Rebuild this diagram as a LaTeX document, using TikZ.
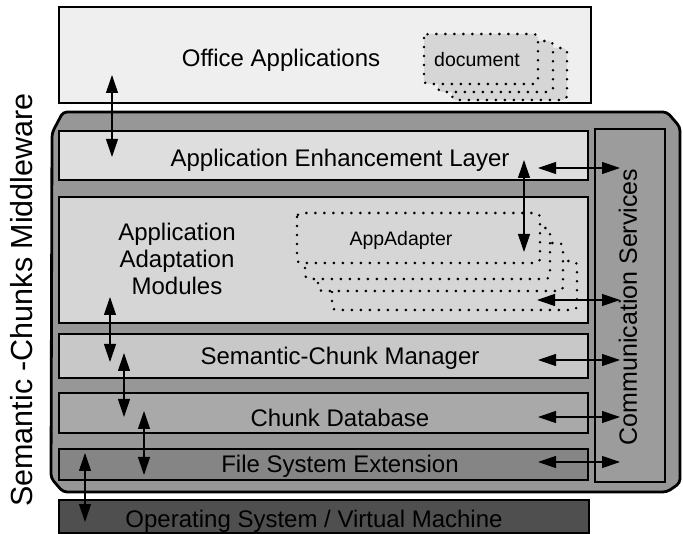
\documentclass[tikz,border=0pt]{standalone}
\usepackage{fontspec}
\setmainfont{Liberation Sans}
\usetikzlibrary{arrows.meta}
\definecolor{cOffice}{HTML}{EFEFEF}
\definecolor{cAEL}{HTML}{DEDEDE}
\definecolor{cAAM}{HTML}{D6D6D6}
\definecolor{cSCM}{HTML}{C8C8C8}
\definecolor{cCDB}{HTML}{A9A9A9}
\definecolor{cFSE}{HTML}{858585}
\definecolor{cOS}{HTML}{4F4F4F}
\definecolor{cMW}{HTML}{979797}
\definecolor{cCOM}{HTML}{9C9C9C}
\definecolor{cDOC}{HTML}{D6D6D6}
\newcommand\myfs{\fontsize{24}{27}\selectfont}
\begin{document}
\begin{tikzpicture}[x=1pt,y=-1pt,
  layer/.style={draw, line width=2.8pt, anchor=north west, inner sep=0pt, outer sep=0pt},
  txt/.style={font=\myfs, inner sep=0pt, anchor=base},
  small/.style={font=\fontsize{19.5}{22}\selectfont, inner sep=0pt, anchor=base},
  dotbox/.style={draw, line width=2.8pt, dash pattern=on 0pt off 9pt, line cap=round, rounded corners=4pt},
  bi/.style={{Triangle[length=18pt,width=12pt]}-{Triangle[length=18pt,width=12pt]}, line width=1.1pt}]
\useasboundingbox (0,0) rectangle (683,534);
% Office applications
\node[layer, fill=cOffice, minimum width=532pt, minimum height=96pt] (office) at (59,7) {};
\node[txt] (tOffice) at (281,67) {Office Applications};
% document stack
\draw[dotbox, fill=cDOC] (452,48) rectangle (567,100);
\draw[dotbox, fill=cDOC] (438,41) rectangle (553,92);
\draw[dotbox, fill=cDOC] (424,34) rectangle (538,84);
\node[small] (tDoc) at (477,67) {document};
% middleware container
\draw[line width=2.8pt, fill=cMW, rounded corners=4pt]
  (52,133) -- (63,112) -- (667,112) -- (680,127) -- (680,483) -- (667,492) -- (63,492) -- (51,478) -- cycle;
\node[txt, rotate=90, anchor=center] (tMW) at (22,300) {\fontsize{30.5}{34}\selectfont Semantic -Chunks Middleware};
% communication services
\node[layer, fill=cCOM, minimum width=70pt, minimum height=353pt] (comm) at (595,129) {};
\node[txt, rotate=90, anchor=center] (tComm) at (628,307) {\fontsize{25}{28}\selectfont Communication Services};
% layers
\node[layer, fill=cAEL, minimum width=529pt, minimum height=49pt] (ael) at (59,131) {};
\node[txt] (tAEL) at (340,167) {Application Enhancement Layer};
\node[layer, fill=cAAM, minimum width=529pt, minimum height=126pt] (aam) at (59,197) {};
\node[font=\myfs, inner sep=0pt, align=center] (tAAM) at (177,259) {Application\\Adaptation\\Modules};
\node[layer, fill=cSCM, minimum width=529pt, minimum height=44pt] (scm) at (59,334) {};
\node[txt] (tSCM) at (340,365) {Semantic-Chunk Manager};
\node[layer, fill=cCDB, minimum width=529pt, minimum height=40pt] (cdb) at (59,393) {};
\node[txt] (tCDB) at (340,427) {Chunk Database};
\node[layer, fill=cFSE, minimum width=529pt, minimum height=31pt] (fse) at (59,449) {};
\node[txt] (tFSE) at (340,473) {File System Extension};
\node[layer, fill=cOS, minimum width=530pt, minimum height=33pt] (os) at (59,500) {};
\node[txt] (tOS) at (314,527) {Operating System / Virtual Machine};
% AppAdapter stack
\draw[dotbox, fill=cAAM] (332,261) rectangle (577,310);
\draw[dotbox, fill=cAAM] (318,243) rectangle (563,291);
\draw[dotbox, fill=cAAM] (305,228) rectangle (550,279);
\draw[dotbox, fill=cAAM] (297,213) rectangle (540,263);
\node[small] (tApp) at (401,246) {AppAdapter};
% arrow end points
\coordinate (a1s) at (112,75);  \coordinate (a1e) at (112,157);
\coordinate (a2s) at (110,297); \coordinate (a2e) at (110,362);
\coordinate (a3s) at (124,353); \coordinate (a3e) at (124,417);
\coordinate (a4s) at (144,411); \coordinate (a4e) at (144,475);
\coordinate (a5s) at (85,453);  \coordinate (a5e) at (85,522);
\coordinate (a6s) at (524,160); \coordinate (a6e) at (524,252);
\coordinate (h1s) at (538,168); \coordinate (h1e) at (620,168);
\coordinate (h2s) at (537,300); \coordinate (h2e) at (620,300);
\coordinate (h3s) at (538,360); \coordinate (h3e) at (620,360);
\coordinate (h4s) at (538,417); \coordinate (h4e) at (620,417);
\coordinate (h5s) at (538,462); \coordinate (h5e) at (620,462);
\foreach \n in {a1,a2,a3,a4,a5,a6,h1,h2,h3,h4,h5}
  \draw[bi] (\n s) -- (\n e);
\end{tikzpicture}
\end{document}
